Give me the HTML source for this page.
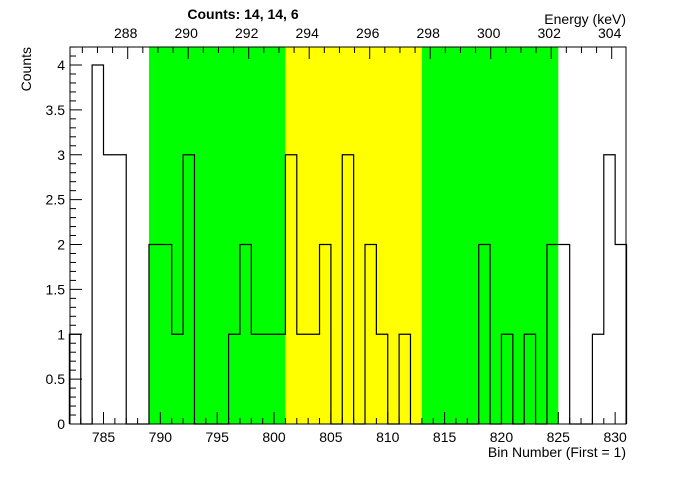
<!DOCTYPE html>
<html><head><meta charset="utf-8"><style>
body{margin:0;background:#fff;}
svg text{font-family:"Liberation Sans",Arial,sans-serif;}
</style></head><body>
<svg id="chart" width="696" height="472" xmlns="http://www.w3.org/2000/svg"></svg>
<script>
const binStart = 782;
const counts = [1,0,4,3,3,0,0,2,2,1,3,0,0,0,1,2,1,1,1,3,1,1,2,0,3,0,2,1,0,1,0,0,0,0,0,0,2,0,1,0,1,0,2,2,0,0,1,3,2];
const regions = [[789,801,'#00ff00'],[801,813,'#ffff00'],[813,825,'#00ff00']];
const xTicks = [785,790,795,800,805,810,815,820,825,830];
const yTicks = [0,0.5,1,1.5,2,2.5,3,3.5,4];
const eTicks = [288,290,292,294,296,298,300,302,304];

const L=70,R=626,T=47,B=424;
const X=v=>103.5+(v-785)*11.37;
const Y=v=>424-v*89.75;
const E=v=>490.7+(v-300)*30.25;
const svg=document.getElementById('chart');
const NS='http://www.w3.org/2000/svg';
function mk(tag,attrs,parent){const e=document.createElementNS(NS,tag);for(const k in attrs)e.setAttribute(k,attrs[k]);(parent||svg).appendChild(e);return e;}

regions.forEach(r=>{
 const e=mk('rect',{x:X(r[0]),y:T,width:X(r[1])-X(r[0]),height:B-T,fill:r[2]});
 
 
});
let d='M'+X(binStart)+' '+Y(0);
counts.forEach((c,i)=>{d+=' L'+X(binStart+i)+' '+Y(c)+' L'+X(binStart+i+1)+' '+Y(c);});
d+=' L'+X(binStart+counts.length)+' '+Y(0);
const h=mk('path',{d:d,fill:'none',stroke:'#000','stroke-width':1.2});


const fr=mk('rect',{x:L,y:T,width:R-L,height:B-T,fill:'none',stroke:'#000','stroke-width':1});



// bottom ticks
for(let v=783;v<=831;v++){const maj=v%5===0;mk('line',{x1:X(v),x2:X(v),y1:B,y2:B-(maj?12:6),stroke:'#000'});}
xTicks.forEach(v=>{const t=mk('text',{x:X(v),y:442,'font-size':14,'text-anchor':'middle'});t.textContent=v;

});
// left ticks
for(let i=0;i<=42;i++){const v=i/10;const maj=i%5===0;mk('line',{x1:L,x2:L+(maj?12:6),y1:Y(v),y2:Y(v),stroke:'#000'});}
yTicks.forEach(v=>{const t=mk('text',{x:65,y:Y(v)+5,'font-size':14,'text-anchor':'end'});t.textContent=v;

});
// top ticks
for(let v=286.5;v<=304.5;v+=0.5){const x=E(v);if(x<L||x>R)continue;const maj=v%2===0;mk('line',{x1:x,x2:x,y1:T,y2:T+(maj?12:6),stroke:'#000'});}
eTicks.forEach(v=>{const t=mk('text',{x:E(v)-2,y:38,'font-size':14,'text-anchor':'middle'});t.textContent=v;

});
</script>
<script>
(function(){const svg=document.getElementById('chart');const NS='http://www.w3.org/2000/svg';
function tx(s,a,name){const e=document.createElementNS(NS,'text');for(const k in a)e.setAttribute(k,a[k]);e.textContent=s;svg.appendChild(e);

}
tx('Counts:   14,   14,   6',{x:243,y:19,'font-size':14,'font-weight':'bold','text-anchor':'middle','xml:space':'preserve'},'chart-title');
tx('Energy (keV)',{x:626,y:24,'font-size':14,'text-anchor':'end'},'energy-axis-title');
tx('Bin Number (First = 1)',{x:626,y:457,'font-size':14,'text-anchor':'end'},'x-axis-title');
tx('Counts',{x:0,y:0,'font-size':14,'text-anchor':'end',transform:'translate(31,47) rotate(-90)'},'y-axis-title');
})();
</script>
</body></html>
